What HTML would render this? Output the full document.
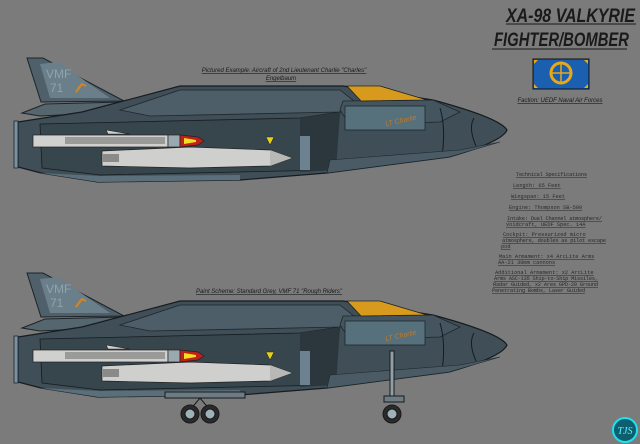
<!DOCTYPE html>
<html><head><meta charset="utf-8"><style>
html,body{margin:0;padding:0;background:#7b7b7b;}
svg{display:block}
.t{font-family:"Liberation Sans",sans-serif;font-style:italic;font-weight:bold;fill:#1a1a1a}
.s{font-family:"Liberation Mono",monospace;font-size:5.3px;fill:#2a2a2a;text-decoration:underline}
.c{font-family:"Liberation Sans",sans-serif;font-style:italic;font-size:6px;fill:#1a1a1a;text-decoration:underline}
</style></head><body>
<svg width="640" height="444" viewBox="0 0 640 444" xmlns="http://www.w3.org/2000/svg">
<rect width="640" height="444" fill="#7b7b7b"/>
<defs>
<g id="jet">
 <polygon points="27,58 43,58 124,101 41,102" fill="#4f606a" stroke="#1c2428" stroke-width="1"/>
 <polygon points="40,64 58,62 110,98 50,98" fill="#6a7f8a"/>
 <text x="46" y="78" font-family="Liberation Sans,sans-serif" font-size="12" fill="#8fa3ad">VMF</text>
 <text x="50" y="92" font-family="Liberation Sans,sans-serif" font-size="12" fill="#8fa3ad">71</text>
 <path d="M76,92 l6,-8 l4,2 M80,86 l-4,6" stroke="#d8841e" stroke-width="2" fill="none"/>
 <polygon points="22,113 45,104 122,102 120,112 40,116" fill="#55666f" stroke="#1c2428" stroke-width="1"/>
 <path d="M18,122 L82,112 L180,86 L343,86 L433,100 Q500,118 507,130 Q502,142 449,157 L327,173 L240,180 L98,182 L41,173 L18,167 Z" fill="#3f4e57" stroke="#161c20" stroke-width="1.2"/>
 <polygon points="120,110 180,90 340,90 355,102 340,112 150,116" fill="#4d5e68" stroke="#1e272c" stroke-width="0.8"/>
 <polygon points="343,101 433,100 460,112 440,122 350,125 340,110" fill="#445560" stroke="#1e272c" stroke-width="0.8"/>
 <rect x="345" y="106" width="80" height="24" fill="#56707c" stroke="#1e272c" stroke-width="0.8"/>
 <text x="385" y="125" font-family="Liberation Sans,sans-serif" font-size="7" fill="#c07a2a" font-style="italic" transform="rotate(-12 390 122)">LT Charlie</text>
 <polygon points="347,86 380,86 427,100 361,101" fill="#d89a1c" stroke="#1c2428" stroke-width="0.8"/>
 <path d="M440,108 q6,20 2,48 M474,118 q-6,10 2,28" stroke="#161c20" fill="none" stroke-width="1"/>
 <polygon points="14,121 18,121 18,168 14,168" fill="#7890a0" stroke="#1c2428" stroke-width="0.8"/>
 <polygon points="40,124 300,118 340,112 330,170 100,175 42,168" fill="#37454d" stroke="#161c20" stroke-width="0.8"/>
 <polygon points="300,118 340,112 336,170 300,172" fill="#2c373d"/>
 <rect x="300" y="136" width="10" height="34" fill="#6c8290"/>
 <polygon points="40,173 98,182 240,180 240,175 100,176" fill="#5a6f7a"/>
 <polygon points="330,160 460,150 500,142 449,157 327,173" fill="#4a5b65" stroke="#1e272c" stroke-width="0.6"/>
 <polygon points="106,130 130,134 108,134" fill="#cfd1d0" stroke="#222" stroke-width="0.6"/>
 <rect x="33" y="135" width="135" height="12" fill="#d0d1ce" stroke="#222" stroke-width="0.7"/>
 <rect x="65" y="137" width="100" height="7" fill="#9a9b99"/>
 <rect x="168" y="135" width="12" height="12" fill="#9aa9b0" stroke="#222" stroke-width="0.7"/>
 <path d="M180,135 L198,137 L204,141 L198,145 L180,147 Z" fill="#c0201a" stroke="#222" stroke-width="0.7"/>
 <path d="M184,138 L196,140 L196,142 L184,144 Z" fill="#f0e020"/>
 <path d="M102,151 L190,147 L270,150 L292,158 L270,166 L190,168 L102,166 Z" fill="#cfd0cd" stroke="#222" stroke-width="0.7"/>
 <rect x="103" y="154" width="16" height="8" fill="#8a8b89"/>
 <path d="M270,150 L292,158 L270,166 Z" fill="#b8b9b6"/>
 <polygon points="266,137 274,137 270,145" fill="#e6d21a" stroke="#222" stroke-width="0.5"/>
</g>
</defs>
<use href="#jet"/>
<use href="#jet" y="215"/>
<g fill="#6b7c85" stroke="#1a1a1a" stroke-width="1">
 <rect x="165" y="392" width="80" height="6"/>
 <path d="M200,398 l-10,12 M200,398 l10,12" fill="none"/>
 <circle cx="190" cy="414" r="9" fill="#2a2a2a"/><circle cx="190" cy="414" r="5" fill="#9fb0b8"/>
 <circle cx="210" cy="414" r="9" fill="#2a2a2a"/><circle cx="210" cy="414" r="5" fill="#9fb0b8"/>
 <rect x="390" y="351" width="4" height="50" fill="#8fa0a8"/>
 <rect x="384" y="396" width="20" height="6"/>
 <circle cx="392" cy="414" r="9" fill="#2a2a2a"/><circle cx="392" cy="414" r="5" fill="#9fb0b8"/>
</g>
<text class="t" x="506" y="22" font-size="19" textLength="129" lengthAdjust="spacingAndGlyphs">XA-98 VALKYRIE</text>
<line x1="506" y1="24" x2="636" y2="24" stroke="#1a1a1a" stroke-width="1"/>
<text class="t" x="494" y="46" font-size="19" textLength="135" lengthAdjust="spacingAndGlyphs">FIGHTER/BOMBER</text>
<line x1="492" y1="49" x2="627" y2="49" stroke="#1a1a1a" stroke-width="1"/>
<rect x="533" y="59" width="56" height="30" fill="#1a5fb0" stroke="#111" stroke-width="1"/>
<path d="M534,60 h4 l-4,4 z M588,60 h-4 l4,4 z M534,88 h4 l-4,-4 z M588,88 h-4 l4,-4 z" fill="#e8a818"/>
<circle cx="561" cy="73" r="10" fill="none" stroke="#e8a818" stroke-width="3"/>
<path d="M551,73 h20 M561,63 v20" stroke="#e8a818" stroke-width="1.5"/>
<text class="c" x="560" y="102" text-anchor="middle">Faction: UEDF Naval Air Forces</text>
<text class="c" x="284" y="72" text-anchor="middle">Pictured Example: Aircraft of 2nd Lieutenant Charlie "Charles"</text>
<text class="c" x="281" y="80" text-anchor="middle">Engelbaum</text>
<text class="c" x="269" y="293" text-anchor="middle">Paint Scheme: Standard Grey, VMF 71 "Rough Riders"</text>
<g class="s">
<text x="516" y="176" textLength="71">Technical Specifications</text>
<text x="513" y="187">Length: 65 Feet</text>
<text x="511" y="198">Wingspan: 15 Feet</text>
<text x="509" y="209">Engine: Thompson SB-500</text>
<text x="507" y="220" textLength="95">Intake: Dual Channel atmosphere/</text>
<text x="506" y="226">voidcraft, UEDF Spec. 14A</text>
<text x="503" y="236">Cockpit: Pressurized micro</text>
<text x="502" y="242" textLength="104">atmosphere, doubles as pilot escape</text>
<text x="501" y="248">pod</text>
<text x="499" y="258">Main Armament: x4 ArcLite Arms</text>
<text x="498" y="264">AA-21 30mm cannons</text>
<text x="495" y="274">Additional Armament: x2 ArcLite</text>
<text x="494" y="280" textLength="104">Arms ASC-135 Ship-to-Ship Missiles,</text>
<text x="493" y="286" textLength="105">Radar Guided, x2 Ares GPD-20 Ground</text>
<text x="492" y="292" textLength="93">Penetrating Bombs, Laser Guided</text>
</g>
<circle cx="625" cy="430" r="12" fill="#0d5e6e" stroke="#1fe0f0" stroke-width="2"/>
<text x="625" y="434" text-anchor="middle" font-family="Liberation Serif,serif" font-size="10" font-style="italic" fill="#60f0ff">TJS</text>
</svg>
</body></html>
